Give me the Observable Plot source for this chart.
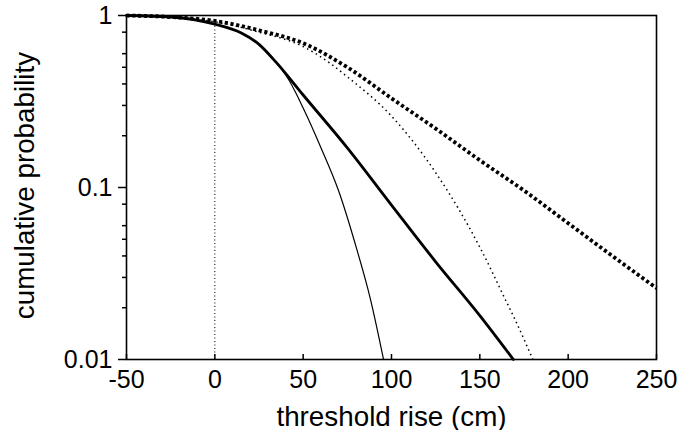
<!DOCTYPE html>
<html><head><meta charset="utf-8">
<script src="https://cdn.jsdelivr.net/npm/d3@7"></script>
<script src="https://cdn.jsdelivr.net/npm/@observablehq/plot@0.6"></script>
<style>body{margin:0;background:#fff} svg{display:block}</style>
</head><body><div id="chart"></div>
<script>
const xTicks = [-50, 0, 50, 100, 150, 200, 250];
const xTickLabels = ["-50", "0", "50", "100", "150", "200", "250"];
const yTicks = [1, 0.1, 0.01];
const yTickLabels = ["1", "0.1", "0.01"];
const yMinorTicks = [0.8, 0.6, 0.5, 0.4, 0.3, 0.2, 0.08, 0.06, 0.05, 0.04, 0.03, 0.02];
const xLabel = "threshold rise (cm)";
const yLabel = "cumulative probability";

// thin solid curve
const thinSolidX = [-50, -25, 0, 15, 25, 35, 42, 50, 60, 70, 80, 88, 95.5];
const thinSolidP = [1, 0.98, 0.89, 0.79, 0.68, 0.53, 0.42, 0.29, 0.171, 0.096, 0.045, 0.0226, 0.01];
// thick solid curve
const thickSolidX = [-50, -25, 0, 15, 25, 35, 50, 75, 100, 125, 150, 169];
const thickSolidP = [1, 0.98, 0.89, 0.79, 0.68, 0.53, 0.345, 0.17, 0.079, 0.037, 0.018, 0.01];
// thin dotted curve
const thinDotX = [-50, -25, 0, 25, 50, 65, 75, 100, 125, 150, 165, 170, 180];
const thinDotP = [1, 0.98, 0.92, 0.80, 0.66, 0.53, 0.44, 0.26, 0.122, 0.045, 0.0217, 0.017, 0.01];
// thick dashed curve
const thickDashX = [-50, -25, 0, 25, 50, 75, 100, 125, 150, 175, 200, 225, 250];
const thickDashP = [1, 0.98, 0.93, 0.82, 0.69, 0.50, 0.33, 0.22, 0.144, 0.096, 0.062, 0.040, 0.026];
// vertical reference at zero
const zeroLineX = [0, 0];
const zeroLineP = [0.01, 0.87];

const rows = (X, P) => X.map((v, i) => ({x: v, p: P[i]}));

const W = 682, H = 430, mL = 126, mR = 26, mT = 15, mB = 71;
const innerH = H - mT - mB;

const chart = Plot.plot({
  width: W, height: H,
  marginLeft: mL, marginRight: mR, marginTop: mT, marginBottom: mB,
  style: {fontFamily: "'Liberation Sans', Arial, sans-serif", fontSize: "25px", background: "#fff", color: "#000", overflow: "visible"},
  x: {domain: [-50, 250], label: null},
  y: {type: "log", domain: [0.01, 1], label: null},
  marks: [
    Plot.axisY(yMinorTicks, {tickSize: 4, strokeWidth: 1.5, tickFormat: () => "", label: null}),
    Plot.axisY(yTicks, {tickSize: 8, tickPadding: 6, strokeWidth: 1.5, label: null, fontSize: 25,
      tickFormat: d => yTickLabels[yTicks.indexOf(d)]}),
    Plot.tickX(xTicks, {x: d => d, insetTop: innerH - 5, strokeWidth: 1.5}),
    Plot.axisX(xTicks, {tickSize: 0, tickPadding: 11, label: null, fontSize: 25,
      tickFormat: d => xTickLabels[xTicks.indexOf(d)]}),
    Plot.line(rows(zeroLineX, zeroLineP), {x: "x", y: "p", stroke: "#000", strokeWidth: 1, strokeDasharray: "1,2.5", strokeLinecap: "butt"}),
    Plot.line(rows(thinSolidX, thinSolidP), {x: "x", y: "p", stroke: "#000", strokeWidth: 1.2, curve: "monotone-x"}),
    Plot.line(rows(thickSolidX, thickSolidP), {x: "x", y: "p", stroke: "#000", strokeWidth: 2.8, curve: "monotone-x"}),
    Plot.line(rows(thinDotX, thinDotP), {x: "x", y: "p", stroke: "#000", strokeWidth: 1.5, strokeDasharray: "1.5,3.5", strokeLinecap: "butt", curve: "monotone-x"}),
    Plot.line(rows(thickDashX, thickDashP), {x: "x", y: "p", stroke: "#000", strokeWidth: 3.8, strokeDasharray: "3.2,2.6", strokeLinecap: "butt", curve: "monotone-x"}),
    Plot.frame({stroke: "#000", strokeWidth: 1.6}),
    Plot.text([xLabel], {frameAnchor: "bottom", textAnchor: "middle", lineAnchor: "bottom", dy: 66, fontSize: 27.8}),
    Plot.text([yLabel], {frameAnchor: "left", textAnchor: "middle", lineAnchor: "middle", rotate: -90, dx: -101, dy: -2, fontSize: 27.8})
  ]
});
document.getElementById("chart").appendChild(chart);
</script>
</body></html>
